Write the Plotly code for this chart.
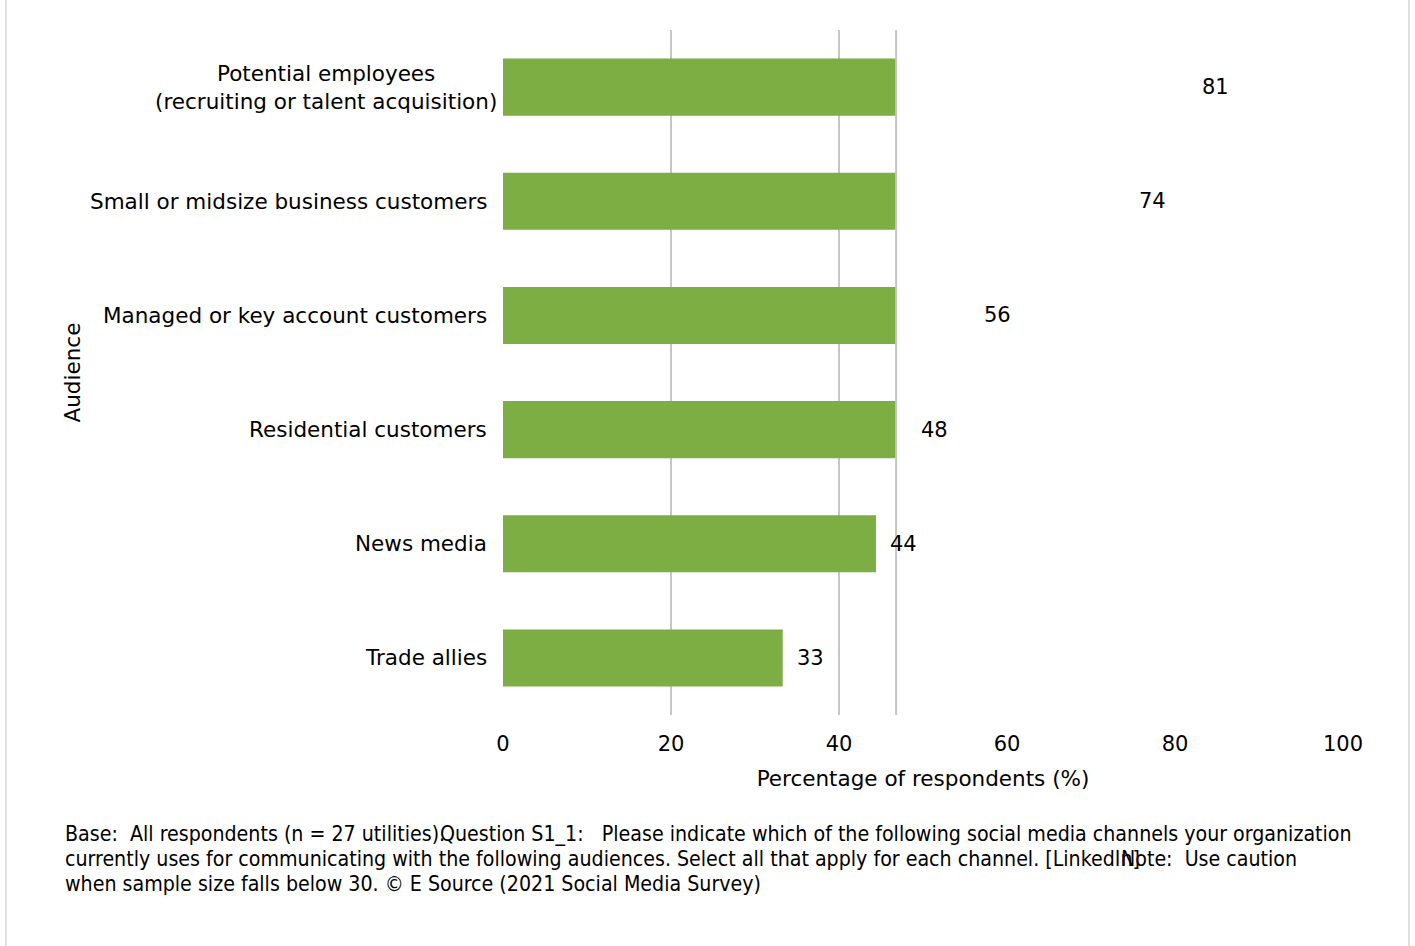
import plotly.graph_objects as go

categories = [
    "Potential employees<br>(recruiting or talent acquisition)",
    "Small or midsize business customers",
    "Managed or key account customers",
    "Residential customers",
    "News media",
    "Trade allies",
]
values = [81.5, 74.1, 55.6, 48.1, 44.4, 33.3]
value_labels = ["81", "74", "56", "48", "44", "33"]
x_ticks = [0, 20, 40, 60, 80, 100]

FONT = "DejaVu Sans"
W, H = 1415, 946
L, R, T, B = 503, 72, 30, 231
plot_w = W - L - R
clip_val = 46.8
clip_frac = clip_val / 100.0

fig = go.Figure()
fig.add_trace(go.Bar(
    y=categories, x=values, orientation="h",
    marker=dict(color="#7cae43", line=dict(width=0)),
    width=0.5, xaxis="x", yaxis="y", showlegend=False,
))
# invisible trace to activate xaxis2
fig.add_trace(go.Scatter(x=[0, 100], y=[categories[0], categories[0]], mode="markers",
                         marker=dict(opacity=0), xaxis="x2", yaxis="y",
                         showlegend=False, hoverinfo="skip"))

annotations = []
for i, (c, v, t) in enumerate(zip(categories, values, value_labels)):
    annotations.append(dict(x=v, y=c, xref="x2", yref="y", text=t, showarrow=False,
                            xanchor="left", yanchor="middle", xshift=12,
                            font=dict(family=FONT, size=21, color="#000")))
    annotations.append(dict(x=0, y=c, xref="paper", yref="y", text=c, showarrow=False,
                            xanchor="right", yanchor="middle", align="center",
                            xshift=-4 if i == 0 else -14,
                            font=dict(family=FONT, size=21.5, color="#000")))

annotations.append(dict(x=0, y=0.5, xref="paper", yref="paper", text="Audience", textangle=-90,
                        showarrow=False, xanchor="center", yanchor="middle", xshift=72 - L,
                        font=dict(family=FONT, size=21.5, color="#000")))

FN = "DejaVu Sans Condensed"
foot = [
    ("Base:  All respondents (n = 27 utilities).", 63, 833),
    ("Question S1_1:   Please indicate which of the following social media channels your organization", 438, 833),
    ("currently uses for communicating with the following audiences. Select all that apply for each channel. [LinkedIn]", 63, 858),
    ("Note:  Use caution", 1119, 858),
    ("when sample size falls below 30. \u00a9 E Source (2021 Social Media Survey)", 63, 883),
]
for txt, px, py in foot:
    annotations.append(dict(x=0, y=0, xref="paper", yref="paper", text=txt, showarrow=False,
                            xanchor="left", yanchor="middle", xshift=px - L, yshift=-(py - (H - B)),
                            font=dict(family=FN, size=21.2, color="#000")))

fig.update_layout(
    width=W, height=H,
    margin=dict(l=L, r=R, t=T, b=B),
    paper_bgcolor="white", plot_bgcolor="rgba(0,0,0,0)",
    bargap=0.5,
    xaxis=dict(domain=[0, clip_frac], range=[0, clip_val], tick0=0, dtick=20, anchor="y",
               showgrid=True, gridcolor="#c6c6c6", gridwidth=2, zeroline=False,
               showticklabels=False, showline=False, fixedrange=True),
    xaxis2=dict(domain=[0, 1], range=[0, 100], tickvals=x_ticks, anchor="y",
                side="bottom", showgrid=False, zeroline=False, showline=False,
                ticks="", ticklabelstandoff=14,
                tickfont=dict(family=FONT, size=21, color="#000"),
                title=dict(text="Percentage of respondents (%)", standoff=15,
                           font=dict(family=FONT, size=21.5, color="#000"))),
    yaxis=dict(categoryorder="array", categoryarray=categories[::-1], range=[-0.5, 5.5],
               showticklabels=False, showgrid=False, zeroline=False, showline=False),
    annotations=annotations,
    shapes=[
        dict(type="line", xref="x domain", yref="paper", x0=1, x1=1, y0=0, y1=1,
             line=dict(color="#c6c6c6", width=2)),
        dict(type="line", xref="paper", yref="paper", x0=(6 - L) / plot_w, x1=(6 - L) / plot_w,
             y0=-B / (H - T - B), y1=1 + T / (H - T - B), line=dict(color="#e0e0e0", width=2)),
        dict(type="line", xref="paper", yref="paper", x0=(1409 - L) / plot_w, x1=(1409 - L) / plot_w,
             y0=-B / (H - T - B), y1=1 + T / (H - T - B), line=dict(color="#e0e0e0", width=2)),
    ],
)
fig.write_html("out.html")
